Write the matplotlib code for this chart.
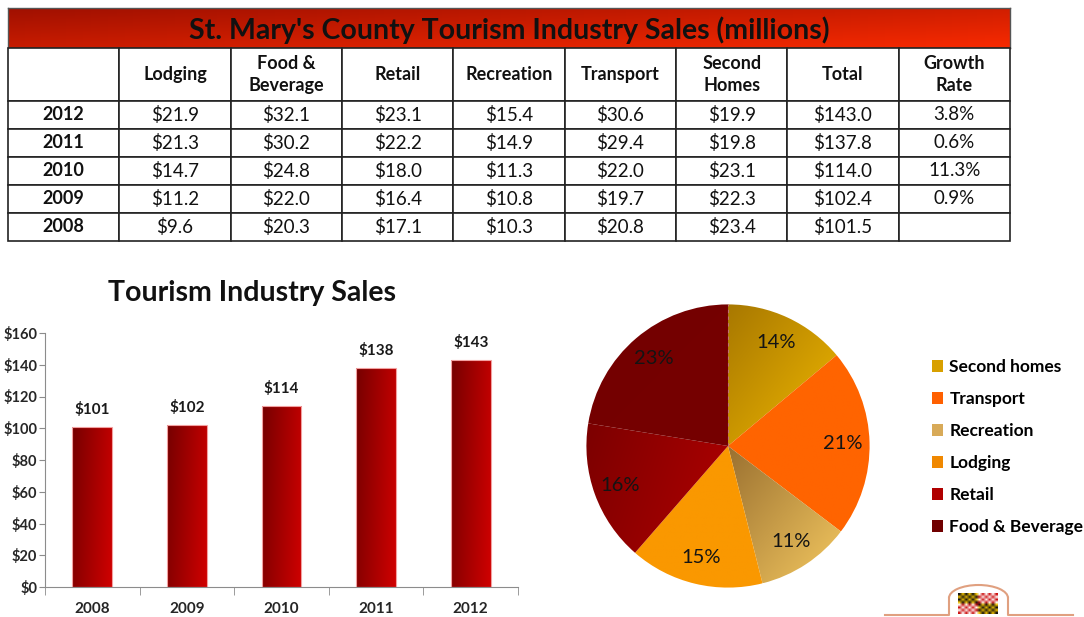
import matplotlib
matplotlib.use("Agg")
import matplotlib.pyplot as plt
import numpy as np
from matplotlib.colors import to_rgb
from matplotlib.patches import Patch, Arc
from matplotlib.ticker import StrMethodFormatter

plt.rcParams['font.family'] = ['Lato', 'DejaVu Sans']

# ---------- table data ----------
years = ['2012', '2011', '2010', '2009', '2008']
lodging = [21.9, 21.3, 14.7, 11.2, 9.6]
food_bev = [32.1, 30.2, 24.8, 22.0, 20.3]
retail = [23.1, 22.2, 18.0, 16.4, 17.1]
recreation = [15.4, 14.9, 11.3, 10.8, 10.3]
transport = [30.6, 29.4, 22.0, 19.7, 20.8]
second_homes = [19.9, 19.8, 23.1, 22.3, 23.4]
total = [143.0, 137.8, 114.0, 102.4, 101.5]
growth = ['3.8%', '0.6%', '11.3%', '0.9%', '']
col_headers = ['', 'Lodging', 'Food &\nBeverage', 'Retail', 'Recreation',
               'Transport', 'Second\nHomes', 'Total', 'Growth\nRate']
table_title = "St. Mary's County Tourism Industry Sales (millions)"

# ---------- bar data ----------
bar_years = ['2008', '2009', '2010', '2011', '2012']
bar_values = [101, 102, 114, 138, 143]

# ---------- pie data (2012) ----------
pie_labels = ['Second homes', 'Transport', 'Recreation', 'Lodging',
              'Retail', 'Food & Beverage']
pie_values = [19.9, 30.6, 15.4, 21.9, 23.1, 32.1]
pie_pct = ['14%', '21%', '11%', '15%', '16%', '23%']

W, H = 1084, 617
fig = plt.figure(figsize=(W / 100, H / 100), dpi=100)


def px(x, y, w, h):
    # pixel box (from top-left) -> figure fraction
    return [x / W, 1 - (y + h) / H, w / W, h / H]


def gradient(ax, patch, extent, c0, c1, direction=(1.0, 1.0)):
    n = 120
    u, v = np.meshgrid(np.linspace(0, 1, n), np.linspace(0, 1, n))
    t = direction[0] * u + direction[1] * (1 - v)
    t = (t - t.min()) / (t.max() - t.min())
    a, b = np.array(to_rgb(c0)), np.array(to_rgb(c1))
    img = a + t[..., None] * (b - a)
    im = ax.imshow(img, extent=extent, origin='lower', aspect='auto',
                   interpolation='bilinear', zorder=patch.get_zorder() - 0.1)
    im.set_clip_path(patch)
    patch.set_facecolor('none')


# ---------- title band ----------
hax = fig.add_axes(px(8, 8, 1002, 40))
n = 120
u, v = np.meshgrid(np.linspace(0, 1, n), np.linspace(0, 1, 40))
t = 0.55 * u + 0.45 * v
c0, c1 = np.array(to_rgb('#a01000')), np.array(to_rgb('#f82a00'))
hax.imshow(c0 + t[..., None] * (c1 - c0), extent=[0, 1, 0, 1], aspect='auto')
hax.set_xticks([])
hax.set_yticks([])
for s in hax.spines.values():
    s.set_color('#555555')
    s.set_linewidth(1)
hax.text(0.5, 0.45, table_title, ha='center', va='center', fontsize=20.5,
         fontweight='bold', color='#111111')

# ---------- table ----------
tax = fig.add_axes(px(8, 48, 1002, 193))
tax.axis('off')
rows = []
for i in range(len(years)):
    rows.append([years[i], f'${lodging[i]:.1f}', f'${food_bev[i]:.1f}',
                 f'${retail[i]:.1f}', f'${recreation[i]:.1f}',
                 f'${transport[i]:.1f}', f'${second_homes[i]:.1f}',
                 f'${total[i]:.1f}', growth[i]])
tbl = tax.table(cellText=rows, colLabels=col_headers, cellLoc='center',
                bbox=[0, 0, 1, 1])
tbl.auto_set_font_size(False)
for (r, c), cell in tbl.get_celld().items():
    cell.set_edgecolor('#222222')
    cell.set_linewidth(1.2)
    cell.set_height(53 if r == 0 else 28)
    txt = cell.get_text()
    txt.set_fontsize(13.5)
    txt.set_color('#111111')
    if r == 0 or c == 0:
        txt.set_fontweight('bold')
        txt.set_fontsize(13)
    txt.set_linespacing(1.3)

# ---------- bar chart ----------
bax = fig.add_axes(px(45, 333, 473, 254))
x = np.arange(len(bar_years))
bars = bax.bar(x, bar_values, width=0.42, edgecolor='#f2a0a0', linewidth=0.8,
               zorder=2)
for b in bars:
    gradient(bax, b, [b.get_x(), b.get_x() + b.get_width(), 0, b.get_height()],
             '#760000', '#d00000', direction=(1.0, 0.25))
for xi, val in zip(x, bar_values):
    bax.annotate(f'${val}', (xi, val), xytext=(0, 7), textcoords='offset points',
                 ha='center', va='bottom', fontsize=11, fontweight='bold',
                 color='#1a1a1a')
bax.set_xlim(-0.5, len(bar_years) - 0.5)
bax.set_ylim(0, 160)
bax.set_yticks(range(0, 161, 20))
bax.yaxis.set_major_formatter(StrMethodFormatter('${x:.0f}'))
bax.set_xticks(x)
bax.set_xticklabels(bar_years)
bax.set_xticks(np.arange(-0.5, len(bar_years)), minor=True)
bax.tick_params(axis='x', which='major', length=0, pad=11)
bax.tick_params(axis='x', which='minor', length=6, color='#8c8c8c')
bax.tick_params(axis='y', length=4, color='#8c8c8c', pad=1.5)
for lab in bax.get_xticklabels():
    lab.set_fontsize(11)
for lab in bax.get_yticklabels():
    lab.set_fontsize(10.5)
for lab in bax.get_xticklabels() + bax.get_yticklabels():
    lab.set_fontweight('bold')
    lab.set_color('#262626')
for s in ['top', 'right']:
    bax.spines[s].set_visible(False)
for s in ['left', 'bottom']:
    bax.spines[s].set_color('#8c8c8c')
bax.text(0.438, 1 + 40 / 254, 'Tourism Industry Sales', transform=bax.transAxes,
         ha='center', va='center', fontsize=20.5, fontweight='bold',
         color='#111111')

# ---------- pie chart ----------
pax = fig.add_axes(px(585, 303, 286, 286))
pie_fill = [('#a87800', '#f0b800', (1, 1)),
            ('#ff6400', '#ff6400', (1, 1)),
            ('#9a7030', '#f4c860', (1, 1)),
            ('#fa9800', '#fa9800', (1, 1)),
            ('#7c0000', '#b00000', (1, 0.3)),
            ('#740000', '#760000', (1, 1))]
wedges, _ = pax.pie(pie_values, startangle=90, counterclock=False, radius=1,
                    wedgeprops=dict(linewidth=0))
for w, (a, b, d), lab in zip(wedges, pie_fill, pie_pct):
    ext = w.get_path().get_extents()
    gradient(pax, w, [ext.x0, ext.x1, ext.y0, ext.y1], a, b, direction=d)
    ang = np.deg2rad((w.theta1 + w.theta2) / 2)
    pax.text(0.81 * np.cos(ang), 0.81 * np.sin(ang), lab, ha='center',
             va='center', fontsize=14.5, color='#141414', zorder=5)
# dashed seam between Retail and Food & Beverage
seam = np.deg2rad(wedges[-1].theta1)
pax.plot([0, np.cos(seam)], [0, np.sin(seam)], ls=(0, (3, 3)), lw=0.8,
         color='#c07070', zorder=4)
pax.set_xlim(-1.01, 1.01)
pax.set_ylim(-1.01, 1.01)
pax.set_aspect('equal')
pax.axis('off')

handles = [Patch(facecolor=c, edgecolor='none') for c in
           ['#d8a000', '#ff6000', '#d8aa58', '#f08800', '#b00000', '#700000']]
fig.legend(handles, pie_labels, loc='upper left',
           bbox_to_anchor=(932 / W, 1 - 359 / H), frameon=False,
           prop={'weight': 'bold', 'size': 12.5}, handlelength=0.65,
           handleheight=0.65, handletextpad=0.35, labelspacing=0.92,
           borderpad=0, borderaxespad=0)

# ---------- small logo ----------
lax = fig.add_axes(px(870, 578, 214, 39))
lax.axis('off')
lax.plot([885, 949, 949], [615, 615, 598], color='#e0a080', lw=1.5)
lax.plot([1008, 1008, 1073], [598, 615, 615], color='#e0a080', lw=1.5)
lax.add_patch(Arc((978.5, 598), 59, 26, theta1=180, theta2=360,
                  color='#e0a080', lw=1.5))
flag = np.ones((8, 12, 3))
for i in range(8):
    for j in range(12):
        top, left = i < 4, j < 6
        if top == left:
            flag[i, j] = to_rgb('#f0c000') if (i + j) % 2 else to_rgb('#111111')
        else:
            flag[i, j] = to_rgb('#cc1010') if (i + j) % 2 else to_rgb('#ffffff')
lax.imshow(flag, extent=[958, 998, 614, 593], aspect='auto',
           interpolation='bilinear')
lax.set_xlim(870, 1084)
lax.set_ylim(617, 578)

fig.savefig('out.png', dpi=100)
